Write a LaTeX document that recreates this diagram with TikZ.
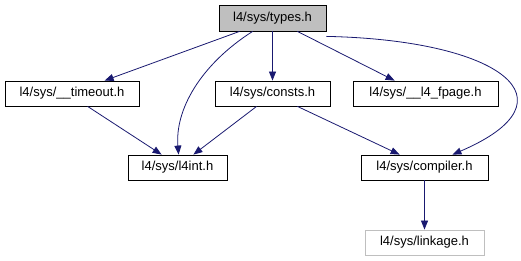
\documentclass[tikz,border=0pt]{standalone}
\usepackage{fontspec}
\setmainfont{Liberation Sans}
\usetikzlibrary{arrows.meta}
\definecolor{edgeblue}{HTML}{191970}
\definecolor{rootgray}{HTML}{BFBFBF}
\begin{document}
\begin{tikzpicture}[x=1pt,y=-1pt,font=\fontsize{13}{15}\selectfont,
    filebox/.style={draw=black,fill=white,line width=0.8pt,inner sep=0pt,minimum height=25pt},
    rootbox/.style={filebox,fill=rootgray,minimum height=26pt},
    missingbox/.style={filebox,draw=rootgray},
    dep/.style={draw=edgeblue,line width=0.8pt,-{Triangle[length=9pt,width=7pt]}}]
    \useasboundingbox (0,0) rectangle (521,261);
    % headers, one row per include depth
    \node[rootbox,minimum width=107pt] (types) at (272.5,18) {l4/sys/types.h};
    \node[filebox,minimum width=134pt] (timeout) at (72,93.5) {l4/sys/\_\_timeout.h};
    \node[filebox,minimum width=115pt] (consts) at (272.5,93.5) {l4/sys/consts.h};
    \node[filebox,minimum width=145pt] (fpage) at (425.5,93.5) {l4/sys/\_\_l4\_fpage.h};
    \node[filebox,minimum width=99pt] (lfourint) at (177.5,167.5) {l4/sys/l4int.h};
    \node[filebox,minimum width=127pt] (compiler) at (424.5,167.5) {l4/sys/compiler.h};
    \node[missingbox,minimum width=119pt] (linkage) at (424.5,242.5) {l4/sys/linkage.h};
    % include edges
    \draw[dep] ([xshift=21pt]types.south west) -- ([xshift=100pt]timeout.north west);
    \draw[dep] ([xshift=34pt]types.south west) .. controls (200,65) and (175,110) .. ([xshift=51pt]lfourint.north west);
    \draw[dep] (types.south) -- (consts.north);
    \draw[dep] ([xshift=-29pt]types.south east) -- ([xshift=42pt]fpage.north west);
    \draw[dep] ([yshift=-5pt]types.south east) .. controls (500,40) and (580,100) .. ([xshift=-36pt]compiler.north east);
    \draw[dep] ([xshift=83pt]timeout.south west) -- ([xshift=34pt]lfourint.north west);
    \draw[dep] ([xshift=42pt]consts.south west) -- ([xshift=-34pt]lfourint.north east);
    \draw[dep] ([xshift=-33pt]consts.south east) -- ([xshift=39pt]compiler.north west);
    \draw[dep] (compiler.south) -- (linkage.north);
\end{tikzpicture}
\end{document}
